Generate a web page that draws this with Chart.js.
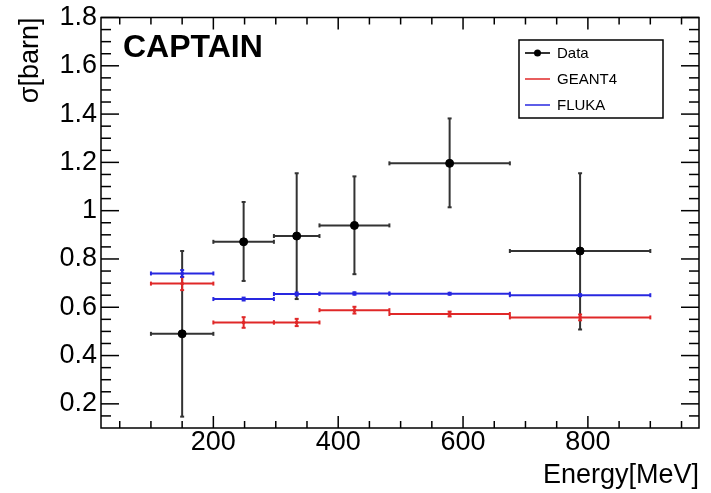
<!DOCTYPE html>
<html>
<head>
<meta charset="utf-8">
<script src="https://cdn.jsdelivr.net/npm/chart.js@4.4.0/dist/chart.umd.min.js"></script>
<style>
  html, body { margin: 0; padding: 0; background: #fff; }
  #wrap { width: 711px; height: 493px; }
</style>
</head>
<body>
<div id="wrap"><canvas id="xsecChart" width="711" height="493"></canvas></div>
<script>
// energy bins (MeV)
const binLow    = [100, 200, 297, 370, 482, 675];
const binHigh   = [200, 297, 370, 482, 675, 900];
const binCenter = [150, 248.5, 333.5, 426, 578.5, 787.5];

// measured cross section with lower / upper error ends (barn)
const dataValue = [0.49, 0.871, 0.895, 0.939, 1.196, 0.833];
const dataLow   = [0.147, 0.709, 0.634, 0.737, 1.014, 0.508];
const dataHigh  = [0.833, 1.036, 1.155, 1.142, 1.382, 1.155];

// simulations
const geantValue = [0.698, 0.537, 0.537, 0.588, 0.572, 0.558];
const geantErr   = [0.027, 0.022, 0.015, 0.014, 0.010, 0.012];
const flukaValue = [0.740, 0.634, 0.655, 0.657, 0.656, 0.650];
const flukaErr   = [0.014, 0.006, 0.006, 0.005, 0.004, 0.004];

const xTicks = [200, 400, 600, 800];
const yTicks = [0.2, 0.4, 0.6, 0.8, 1, 1.2, 1.4, 1.6, 1.8];

const FONT = "'Liberation Sans', Arial, Helvetica, sans-serif";

function points(values, lo, hi) {
    return values.map((v, i) => ({
        x: binCenter[i], y: v,
        xlo: binLow[i], xhi: binHigh[i],
        ylo: lo(i), yhi: hi(i)
    }));
}

const dataPts  = points(dataValue, i => dataLow[i], i => dataHigh[i]);
const geantPts = points(geantValue, i => geantValue[i] - geantErr[i], i => geantValue[i] + geantErr[i]);
const flukaPts = points(flukaValue, i => flukaValue[i] - flukaErr[i], i => flukaValue[i] + flukaErr[i]);

function line(ctx, x1, y1, x2, y2) {
    ctx.beginPath();
    ctx.moveTo(x1, y1);
    ctx.lineTo(x2, y2);
    ctx.stroke();
}

const rootStyle = {
    id: 'rootStyle',
    beforeDatasetsDraw(chart) {
        const ctx = chart.ctx;
        const xs = chart.scales.x, ys = chart.scales.y;
        ctx.save();
        chart.data.datasets.forEach((ds) => {
            ctx.strokeStyle = ds.barColor;
            ctx.lineWidth = 2;
            ds.data.forEach(p => {
                const px = xs.getPixelForValue(p.x), py = ys.getPixelForValue(p.y);
                const x1 = xs.getPixelForValue(p.xlo), x2 = xs.getPixelForValue(p.xhi);
                const y1 = ys.getPixelForValue(p.ylo), y2 = ys.getPixelForValue(p.yhi);
                line(ctx, x1, py, x2, py);
                line(ctx, px, y1, px, y2);
                line(ctx, x1, py - 2, x1, py + 2);
                line(ctx, x2, py - 2, x2, py + 2);
                line(ctx, px - 2, y1, px + 2, y1);
                line(ctx, px - 2, y2, px + 2, y2);
            });
        });
        ctx.restore();
    },
    afterDraw(chart) {
        const ctx = chart.ctx;
        const {left, right, top, bottom} = chart.chartArea;
        const xs = chart.scales.x, ys = chart.scales.y;
        ctx.save();
        ctx.strokeStyle = '#000';
        ctx.lineWidth = 1.5;
        ctx.strokeRect(left, top, right - left, bottom - top);

        // inward ticks on all four sides
        for (let v = 50; v < xs.max; v += 50) {
            const px = xs.getPixelForValue(v);
            const len = v % 200 === 0 ? 12 : 7;
            line(ctx, px, bottom, px, bottom - len);
            line(ctx, px, top, px, top + len);
        }
        for (let k = 3; k <= 36; k++) {
            const py = ys.getPixelForValue(k * 0.05);
            const len = k % 4 === 0 ? 18 : 10;
            line(ctx, left, py, left + len, py);
            line(ctx, right, py, right - len, py);
        }

        ctx.fillStyle = '#000';
        ctx.font = 'bold 32px ' + FONT;
        ctx.textBaseline = 'alphabetic';
        ctx.fillText('CAPTAIN', 123, 57);

        // legend
        ctx.lineWidth = 1.5;
        ctx.strokeRect(519, 40, 144, 78);
        ctx.font = '15px ' + FONT;
        ctx.textBaseline = 'middle';
        const rows = [53, 79, 105];
        chart.data.datasets.forEach((ds, i) => {
            const y = rows[i];
            ctx.strokeStyle = ds.barColor;
            ctx.lineWidth = ds.label === 'Data' ? 2 : 1.5;
            line(ctx, 525, y, 550, y);
            if (ds.label === 'Data') {
                ctx.fillStyle = '#000';
                ctx.beginPath();
                ctx.arc(537.5, y, 3.5, 0, Math.PI * 2);
                ctx.fill();
            }
            ctx.fillStyle = '#000';
            ctx.fillText(ds.label, 557, y + 1);
        });
        ctx.restore();
    }
};

const ctx = document.getElementById('xsecChart').getContext('2d');
new Chart(ctx, {
    type: 'scatter',
    data: {
        datasets: [
            { label: 'Data', data: dataPts, barColor: '#333', backgroundColor: '#000', borderColor: '#000', pointRadius: 4, order: 1 },
            { label: 'GEANT4', data: geantPts, barColor: '#e02828', backgroundColor: '#e02828', borderColor: '#e02828', pointRadius: 1.5, order: 2 },
            { label: 'FLUKA', data: flukaPts, barColor: '#2828e0', backgroundColor: '#2828e0', borderColor: '#2828e0', pointRadius: 1.5, order: 3 }
        ]
    },
    options: {
        responsive: false,
        animation: false,
        layout: { padding: { top: 15, right: 12, left: 0, bottom: 0 } },
        plugins: { legend: { display: false }, tooltip: { enabled: false } },
        scales: {
            x: {
                type: 'linear', position: 'bottom', min: 20, max: 978,
                grid: { display: false, drawTicks: false },
                border: { display: false },
                afterBuildTicks: s => { s.ticks = xTicks.map(v => ({ value: v })); },
                afterFit: s => { s.height = 65; },
                ticks: {
                    color: '#000', autoSkip: false, maxRotation: 0, padding: 1,
                    font: { family: FONT, size: 27, lineHeight: 1 },
                    callback: v => String(v)
                },
                title: {
                    display: true, text: 'Energy[MeV]', align: 'end', color: '#000',
                    font: { family: FONT, size: 27 }, padding: { top: 0, bottom: 1 }
                }
            },
            y: {
                type: 'linear', min: 0.1, max: 1.8,
                grid: { display: false, drawTicks: false },
                border: { display: false },
                afterBuildTicks: s => { s.ticks = yTicks.map(v => ({ value: v })); },
                afterFit: s => { s.width = 101; },
                ticks: {
                    color: '#000', autoSkip: false, padding: 4,
                    font: { family: FONT, size: 27, lineHeight: 1 },
                    callback: v => String(Number(v.toFixed(1)))
                },
                title: {
                    display: true, text: 'σ[barn]', align: 'end', color: '#000',
                    font: { family: FONT, size: 27 }, padding: { top: 14, bottom: 0 }
                }
            }
        }
    },
    plugins: [rootStyle]
});
</script>
</body>
</html>
